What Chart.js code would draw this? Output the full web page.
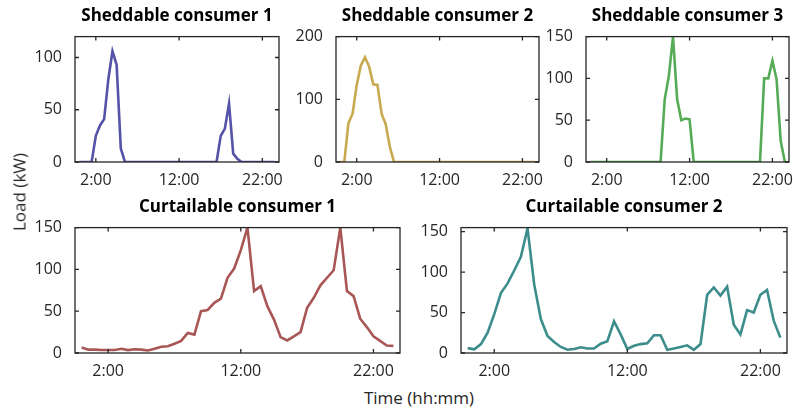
<!DOCTYPE html>
<html>
<head>
<meta charset="utf-8">
<script src="https://cdn.jsdelivr.net/npm/chart.js@4.4.1/dist/chart.umd.min.js"></script>
<style>
  body { margin: 0; background: #fff; }
  #wrap { position: relative; width: 793px; height: 414px; overflow: hidden; font-family: 'Open Sans', sans-serif; color: #262626; }
  #wrap canvas { position: absolute; }
  .ttl { position: absolute; font-weight: bold; font-size: 17px; color: #000; text-align: center; white-space: nowrap; transform: translate(-50%, -50%); }
  .lbl { position: absolute; font-size: 17px; white-space: nowrap; transform: translate(-50%, -50%); }
</style>
</head>
<body>
<div id="wrap"></div>
<script>
// half-hourly time steps, 0:00 .. 23:30 (in hours)
var hours = [];
for (var h = 0; h < 48; h++) hours.push(h / 2);

var xTicks = [2, 12, 22];

// loads in kW
var shed1 = [0, 0, 0, 0, 25, 35, 41, 79, 106, 93, 13, 0,
             0, 0, 0, 0, 0, 0, 0, 0, 0, 0, 0, 0,
             0, 0, 0, 0, 0, 0, 0, 0, 0, 0, 25, 32,
             56, 8, 3, 0, 0, 0, 0, 0, 0, 0, 0, 0];
var shed2 = [0, 0, 62, 77, 123, 154, 167, 152, 124, 123, 77, 60,
             24, 0, 0, 0, 0, 0, 0, 0, 0, 0, 0, 0,
             0, 0, 0, 0, 0, 0, 0, 0, 0, 0, 0, 0,
             0, 0, 0, 0, 0, 0, 0, 0, 0, 0, 0, 0];
var shed3 = [0, 0, 0, 0, 0, 0, 0, 0, 0, 0, 0, 0,
             0, 0, 0, 0, 0, 0, 75, 103, 150, 75, 50, 52,
             51, 0, 0, 0, 0, 0, 0, 0, 0, 0, 0, 0,
             0, 0, 0, 0, 0, 0, 100, 100, 121, 99, 25, 0];
var curt1 = [6.5, 4, 4, 3.5, 3.5, 3.5, 5, 3.5, 4.5, 4, 3, 5,
             7.5, 8, 11, 14.5, 24, 22, 50, 51.5, 60, 65, 90, 101,
             123, 150, 74, 80, 56, 40, 19, 15, 20, 25, 54, 66,
             81, 90, 99, 150, 74, 68, 41, 31, 20, 14.5, 9, 8.5];
var curt2 = [6, 4.5, 11, 25, 48, 74, 86, 102, 119, 154, 85, 42,
             21, 13.5, 7.5, 4, 5, 7, 5.5, 5.5, 11.5, 14.5, 39, 23,
             5, 9, 11, 12, 22, 22, 4, 5.5, 7.5, 9.5, 4, 11,
             72, 81, 71, 82, 35, 23, 53, 50, 72, 78, 40, 19];

var yTicks50 = [0, 50, 100, 150];
var yTicks100 = [0, 100, 200];

var panels = [
  { title: 'Sheddable consumer 1', data: shed1, color: '#5453A8', box: [75, 32, 204, 130], yMax: 120, yTicks: yTicks50 },
  { title: 'Sheddable consumer 2', data: shed2, color: '#C9A94F', box: [336, 32, 203, 130], yMax: 200, yTicks: yTicks100 },
  { title: 'Sheddable consumer 3', data: shed3, color: '#56AB56', box: [586, 32, 203, 130], yMax: 150, yTicks: yTicks50 },
  { title: 'Curtailable consumer 1', data: curt1, color: '#A95656', box: [75, 223, 325, 130], yMax: 150, yTicks: yTicks50 },
  { title: 'Curtailable consumer 2', data: curt2, color: '#3C8D8B', box: [461, 223, 326, 130], yMax: 155, yTicks: yTicks50 }
];

Chart.defaults.font.family = "'Open Sans', sans-serif";
Chart.defaults.font.size = 16;
Chart.defaults.color = '#262626';

// box round the plot area with inward ticks on all four sides
var boxPlugin = {
  id: 'box',
  afterDraw: function (chart) {
    var ctx = chart.ctx, a = chart.chartArea;
    var x = chart.scales.x, y = chart.scales.y;
    var t = 4;
    ctx.save();
    ctx.strokeStyle = '#262626';
    ctx.lineWidth = 1.3;
    ctx.strokeRect(a.left, a.top, a.right - a.left, a.bottom - a.top);
    ctx.beginPath();
    x.ticks.forEach(function (tk) {
      var px = x.getPixelForValue(tk.value);
      ctx.moveTo(px, a.bottom); ctx.lineTo(px, a.bottom - t);
      ctx.moveTo(px, a.top); ctx.lineTo(px, a.top + t);
    });
    y.ticks.forEach(function (tk) {
      var py = y.getPixelForValue(tk.value);
      ctx.moveTo(a.left, py); ctx.lineTo(a.left + t, py);
      ctx.moveTo(a.right, py); ctx.lineTo(a.right - t, py);
    });
    ctx.stroke();
    ctx.restore();
  }
};

var wrap = document.getElementById('wrap');
var padL = 55, padT = 10, padR = 8, padB = 30;

panels.forEach(function (p) {
  var bx = p.box[0], by = p.box[1], bw = p.box[2], bh = p.box[3];
  var cv = document.createElement('canvas');
  var cw = bw + padL + padR, ch = bh + padT + padB;
  cv.width = cw; cv.height = ch;
  cv.style.left = (bx - padL) + 'px';
  cv.style.top = (by - padT) + 'px';
  cv.style.width = cw + 'px';
  cv.style.height = ch + 'px';
  wrap.appendChild(cv);

  var t = document.createElement('div');
  t.className = 'ttl';
  t.textContent = p.title;
  t.style.left = (bx + bw / 2) + 'px';
  t.style.top = (by - 18) + 'px';
  wrap.appendChild(t);

  new Chart(cv.getContext('2d'), {
    type: 'line',
    data: {
      datasets: [{
        data: hours.map(function (hr, i) { return { x: hr, y: p.data[i] }; }),
        borderColor: p.color,
        borderWidth: 2.6,
        pointRadius: 0,
        tension: 0,
        fill: false
      }]
    },
    options: {
      responsive: false,
      animation: false,
      layout: { padding: { left: 0, top: padT, right: padR, bottom: 0 } },
      plugins: { legend: { display: false }, tooltip: { enabled: false } },
      scales: {
        x: {
          type: 'linear', min: -0.5, max: 24,
          grid: { display: false }, border: { display: false },
          afterBuildTicks: function (s) { s.ticks = xTicks.map(function (v) { return { value: v }; }); },
          afterFit: function (s) { s.height = padB; },
          ticks: { padding: 1, maxRotation: 0, callback: function (v) { return v + ':00'; } }
        },
        y: {
          min: 0, max: p.yMax,
          grid: { display: false }, border: { display: false },
          afterBuildTicks: function (s) {
            s.ticks = p.yTicks.filter(function (v) { return v <= p.yMax; })
                              .map(function (v) { return { value: v }; });
          },
          afterFit: function (s) { s.width = padL; },
          ticks: { padding: 5 }
        }
      }
    },
    plugins: [boxPlugin]
  });
});

function label(txt, x, y, rot) {
  var d = document.createElement('div');
  d.className = 'lbl';
  d.textContent = txt;
  d.style.left = x + 'px';
  d.style.top = y + 'px';
  if (rot) d.style.transform = 'translate(-50%, -50%) rotate(-90deg)';
  wrap.appendChild(d);
}
label('Load (kW)', 19, 192, true);
label('Time (hh:mm)', 419, 397, false);
</script>
</body>
</html>
